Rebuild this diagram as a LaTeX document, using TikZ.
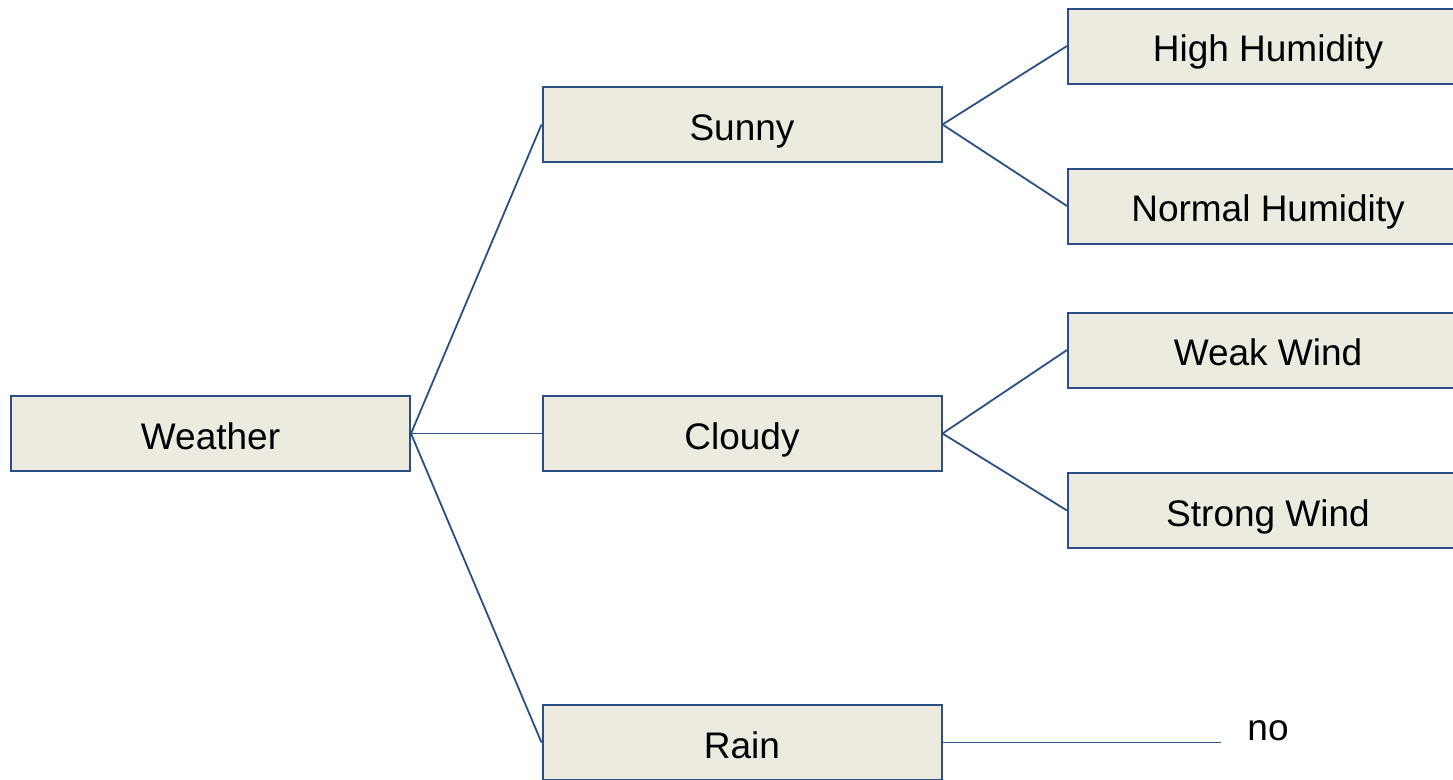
\documentclass[tikz,border=0pt]{standalone}
\usepackage{fontspec}
\setmainfont{Liberation Sans}
\definecolor{boxfill}{HTML}{EDEAE0}
\definecolor{boxline}{HTML}{2A4F85}
\begin{document}
\begin{tikzpicture}[x=1pt,y=-1pt,
  treebox/.style={draw=boxline,line width=2pt,fill=boxfill,minimum width=399pt,minimum height=75pt,inner sep=0pt,text height=31pt,text depth=0pt,font=\fontsize{37}{44}\selectfont},
  conn/.style={draw=boxline,line width=1.8pt}]
\useasboundingbox (0,0) rectangle (1453,779);
\clip (0,0) rectangle (1453,779);
\node[treebox] (weather) at (210.5,433.5) {Weather};
\node[treebox] (sunny) at (742,124.5) {Sunny};
\node[treebox] (cloudy) at (742,433.5) {Cloudy};
\node[treebox] (rain) at (742,742.5) {Rain};
\node[treebox,minimum width=400pt] (high) at (1268,46) {High Humidity};
\node[treebox,minimum width=400pt] (normal) at (1268,206) {Normal Humidity};
\node[treebox,minimum width=400pt] (weak) at (1268,350) {Weak Wind};
\node[treebox,minimum width=400pt] (strong) at (1268,510.5) {Strong Wind};
\node[font=\fontsize{37}{44}\selectfont,inner sep=0pt] (no) at (1268,731) {no};
\coordinate (noend) at (1221,742.5);
\draw[conn] (weather.east) -- (sunny.west);
\draw[conn] (weather.east) -- (cloudy.west);
\draw[conn] (weather.east) -- (rain.west);
\draw[conn] (sunny.east) -- (high.west);
\draw[conn] (sunny.east) -- (normal.west);
\draw[conn] (cloudy.east) -- (weak.west);
\draw[conn] (cloudy.east) -- (strong.west);
\draw[conn] (rain.east) -- (noend);
\end{tikzpicture}
\end{document}
